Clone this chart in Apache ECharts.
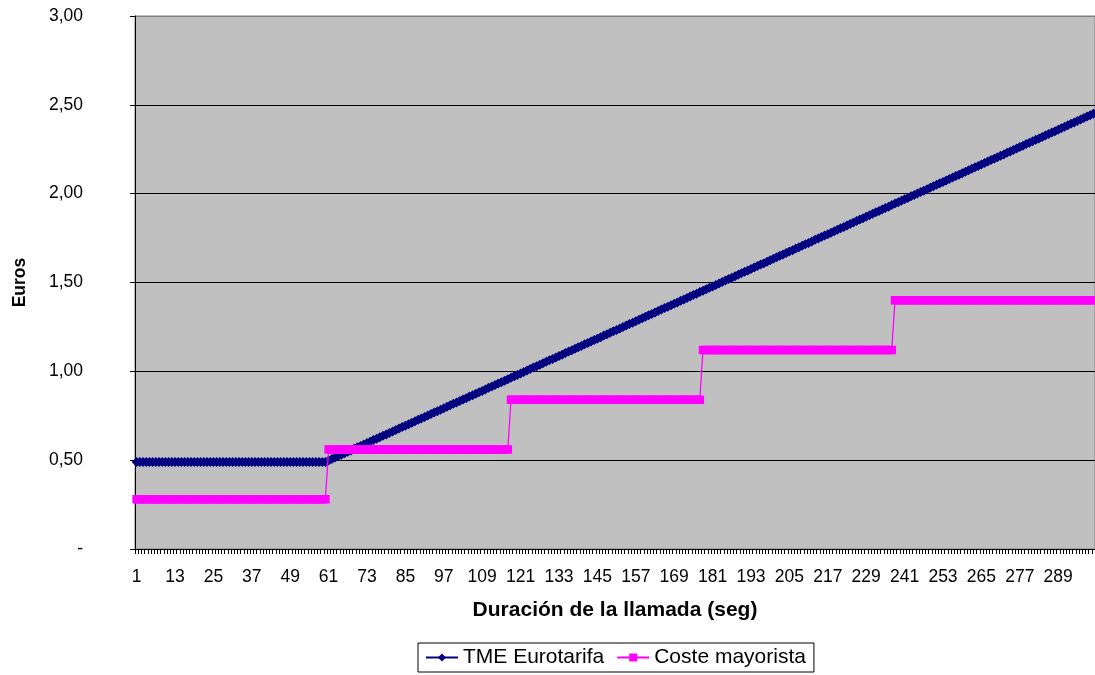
<!DOCTYPE html>
<html>
<head>
<meta charset="utf-8">
<script src="https://cdn.jsdelivr.net/npm/echarts@6/dist/echarts.min.js"></script>
<style>
html,body{margin:0;padding:0;background:#fff;}
#chart{width:1095px;height:675px;}
</style>
</head>
<body>
<div id="chart"></div>
<script>
// x categories: call duration in seconds
var categories = [
1,2,3,4,5,6,7,8,9,10,11,12,13,14,15,16,17,18,19,20,21,22,23,24,25,26,27,28,29,30,
31,32,33,34,35,36,37,38,39,40,41,42,43,44,45,46,47,48,49,50,51,52,53,54,55,56,57,58,59,60,
61,62,63,64,65,66,67,68,69,70,71,72,73,74,75,76,77,78,79,80,81,82,83,84,85,86,87,88,89,90,
91,92,93,94,95,96,97,98,99,100,101,102,103,104,105,106,107,108,109,110,111,112,113,114,115,116,117,118,119,120,
121,122,123,124,125,126,127,128,129,130,131,132,133,134,135,136,137,138,139,140,141,142,143,144,145,146,147,148,149,150,
151,152,153,154,155,156,157,158,159,160,161,162,163,164,165,166,167,168,169,170,171,172,173,174,175,176,177,178,179,180,
181,182,183,184,185,186,187,188,189,190,191,192,193,194,195,196,197,198,199,200,201,202,203,204,205,206,207,208,209,210,
211,212,213,214,215,216,217,218,219,220,221,222,223,224,225,226,227,228,229,230,231,232,233,234,235,236,237,238,239,240,
241,242,243,244,245,246,247,248,249,250,251,252,253,254,255,256,257,258,259,260,261,262,263,264,265,266,267,268,269,270,
271,272,273,274,275,276,277,278,279,280,281,282,283,284,285,286,287,288,289,290,291,292,293,294,295,296,297,298,299,300
];

// TME Eurotarifa (euros)
var tmeEurotarifa = [
0.49,0.49,0.49,0.49,0.49,0.49,0.49,0.49,0.49,0.49,0.49,0.49,0.49,0.49,0.49,0.49,0.49,0.49,0.49,0.49,
0.49,0.49,0.49,0.49,0.49,0.49,0.49,0.49,0.49,0.49,0.49,0.49,0.49,0.49,0.49,0.49,0.49,0.49,0.49,0.49,
0.49,0.49,0.49,0.49,0.49,0.49,0.49,0.49,0.49,0.49,0.49,0.49,0.49,0.49,0.49,0.49,0.49,0.49,0.49,0.49,
0.498,0.506,0.515,0.523,0.531,0.539,
0.547,0.555,0.564,0.572,0.580,0.588,
0.596,0.604,0.613,0.621,0.629,0.637,
0.645,0.653,0.662,0.670,0.678,0.686,
0.694,0.702,0.711,0.719,0.727,0.735,
0.743,0.751,0.760,0.768,0.776,0.784,
0.792,0.800,0.809,0.817,0.825,0.833,
0.841,0.849,0.858,0.866,0.874,0.882,
0.890,0.898,0.907,0.915,0.923,0.931,
0.939,0.947,0.956,0.964,0.972,0.980,
0.988,0.996,1.005,1.013,1.021,1.029,
1.037,1.045,1.054,1.062,1.070,1.078,
1.086,1.094,1.103,1.111,1.119,1.127,
1.135,1.143,1.152,1.160,1.168,1.176,
1.184,1.192,1.201,1.209,1.217,1.225,
1.233,1.241,1.250,1.258,1.266,1.274,
1.282,1.290,1.299,1.307,1.315,1.323,
1.331,1.339,1.348,1.356,1.364,1.372,
1.380,1.388,1.397,1.405,1.413,1.421,
1.429,1.437,1.446,1.454,1.462,1.470,
1.478,1.486,1.495,1.503,1.511,1.519,
1.527,1.535,1.544,1.552,1.560,1.568,
1.576,1.584,1.593,1.601,1.609,1.617,
1.625,1.633,1.642,1.650,1.658,1.666,
1.674,1.682,1.691,1.699,1.707,1.715,
1.723,1.731,1.740,1.748,1.756,1.764,
1.772,1.780,1.789,1.797,1.805,1.813,
1.821,1.829,1.838,1.846,1.854,1.862,
1.870,1.878,1.887,1.895,1.903,1.911,
1.919,1.927,1.936,1.944,1.952,1.960,
1.968,1.976,1.985,1.993,2.001,2.009,
2.017,2.025,2.034,2.042,2.050,2.058,
2.066,2.074,2.083,2.091,2.099,2.107,
2.115,2.123,2.132,2.140,2.148,2.156,
2.164,2.172,2.181,2.189,2.197,2.205,
2.213,2.221,2.230,2.238,2.246,2.254,
2.262,2.270,2.279,2.287,2.295,2.303,
2.311,2.319,2.328,2.336,2.344,2.352,
2.360,2.368,2.377,2.385,2.393,2.401,
2.409,2.417,2.426,2.434,2.442,2.450
];

// Coste mayorista (euros)
var costeMayorista = [
0.28,0.28,0.28,0.28,0.28,0.28,0.28,0.28,0.28,0.28,0.28,0.28,0.28,0.28,0.28,0.28,0.28,0.28,0.28,0.28,
0.28,0.28,0.28,0.28,0.28,0.28,0.28,0.28,0.28,0.28,0.28,0.28,0.28,0.28,0.28,0.28,0.28,0.28,0.28,0.28,
0.28,0.28,0.28,0.28,0.28,0.28,0.28,0.28,0.28,0.28,0.28,0.28,0.28,0.28,0.28,0.28,0.28,0.28,0.28,0.28,
0.56,0.56,0.56,0.56,0.56,0.56,0.56,0.56,0.56,0.56,0.56,0.56,0.56,0.56,0.56,0.56,0.56,0.56,0.56,0.56,
0.56,0.56,0.56,0.56,0.56,0.56,0.56,0.56,0.56,0.56,0.56,0.56,0.56,0.56,0.56,0.56,0.56,0.56,0.56,0.56,
0.56,0.56,0.56,0.56,0.56,0.56,0.56,0.56,0.56,0.56,0.56,0.56,0.56,0.56,0.56,0.56,0.56,
0.84,0.84,0.84,0.84,0.84,0.84,0.84,0.84,0.84,0.84,0.84,0.84,0.84,0.84,0.84,0.84,0.84,0.84,0.84,0.84,
0.84,0.84,0.84,0.84,0.84,0.84,0.84,0.84,0.84,0.84,0.84,0.84,0.84,0.84,0.84,0.84,0.84,0.84,0.84,0.84,
0.84,0.84,0.84,0.84,0.84,0.84,0.84,0.84,0.84,0.84,0.84,0.84,0.84,0.84,0.84,0.84,0.84,0.84,0.84,0.84,
1.12,1.12,1.12,1.12,1.12,1.12,1.12,1.12,1.12,1.12,1.12,1.12,1.12,1.12,1.12,1.12,1.12,1.12,1.12,1.12,
1.12,1.12,1.12,1.12,1.12,1.12,1.12,1.12,1.12,1.12,1.12,1.12,1.12,1.12,1.12,1.12,1.12,1.12,1.12,1.12,
1.12,1.12,1.12,1.12,1.12,1.12,1.12,1.12,1.12,1.12,1.12,1.12,1.12,1.12,1.12,1.12,1.12,1.12,1.12,1.12,
1.40,1.40,1.40,1.40,1.40,1.40,1.40,1.40,1.40,1.40,1.40,1.40,1.40,1.40,1.40,1.40,1.40,1.40,1.40,1.40,
1.40,1.40,1.40,1.40,1.40,1.40,1.40,1.40,1.40,1.40,1.40,1.40,1.40,1.40,1.40,1.40,1.40,1.40,1.40,1.40,
1.40,1.40,1.40,1.40,1.40,1.40,1.40,1.40,1.40,1.40,1.40,1.40,1.40,1.40,1.40,1.40,1.40,1.40,1.40,1.40,
1.40,1.40,1.40
];

var seriesNames = ['TME Eurotarifa', 'Coste mayorista'];
var xTitle = 'Duración de la llamada (seg)';
var yTitle = 'Euros';

var chart = echarts.init(document.getElementById('chart'), null, {renderer: 'canvas'});
var font = 'Liberation Sans, Arial, sans-serif';

chart.setOption({
  animation: false,
  backgroundColor: '#ffffff',
  textStyle: {fontFamily: font},
  grid: {
    left: 135, right: -3, top: 16, bottom: 126,
    show: true, backgroundColor: '#C0C0C0', borderColor: '#808080', borderWidth: 1
  },
  legend: {
    data: seriesNames,
    left: 418, top: 643,
    itemWidth: 32, itemHeight: 10, itemGap: 12,
    padding: [4, 8, 4, 7],
    borderColor: '#000', borderWidth: 1,
    textStyle: {fontSize: 21, color: '#000', fontFamily: font}
  },
  xAxis: {
    type: 'category',
    data: categories,
    boundaryGap: true,
    axisLine: {lineStyle: {color: '#000', width: 1}},
    axisTick: {show: true, interval: 0, length: 5, lineStyle: {color: '#000'}},
    axisLabel: {interval: 11, fontSize: 17.5, color: '#000', margin: 19, fontFamily: font},
    splitLine: {show: false},
    name: xTitle,
    nameLocation: 'middle',
    nameGap: 51,
    nameTextStyle: {fontWeight: 'bold', fontSize: 21, color: '#000', fontFamily: font}
  },
  yAxis: {
    type: 'value',
    min: 0, max: 3, interval: 0.5,
    axisLine: {show: true, lineStyle: {color: '#000', width: 1}},
    axisTick: {show: true, length: 5, lineStyle: {color: '#000'}},
    axisLabel: {
      fontSize: 17.5, color: '#000', margin: 52, fontFamily: font,
      formatter: function (v) { return v === 0 ? '-' : v.toFixed(2).replace('.', ','); }
    },
    splitLine: {show: true, lineStyle: {color: ['#000', '#000', '#000', '#000', '#000', '#000', '#808080'], width: 1}},
    name: yTitle,
    nameLocation: 'middle',
    nameGap: 106,
    nameTextStyle: {fontWeight: 'bold', fontSize: 17.5, color: '#000', fontFamily: font}
  },
  series: [
    {
      name: seriesNames[0], type: 'line', data: tmeEurotarifa,
      symbol: 'diamond', symbolSize: 10, showSymbol: true, showAllSymbol: true,
      itemStyle: {color: '#000080'},
      lineStyle: {color: '#000080', width: 2},
      z: 2
    },
    {
      name: seriesNames[1], type: 'line', data: costeMayorista,
      symbol: 'rect', symbolSize: 8.5, showSymbol: true, showAllSymbol: true,
      itemStyle: {color: '#FF00FF'},
      lineStyle: {color: '#FF00FF', width: 1.3},
      z: 3
    }
  ]
});
</script>
</body>
</html>
